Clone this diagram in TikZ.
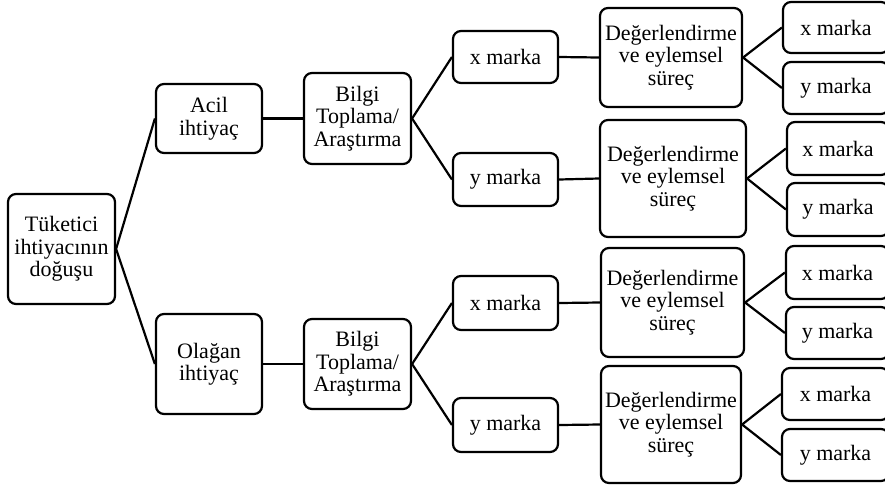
\documentclass[tikz,border=0pt]{standalone}
\usepackage{fontspec}
\setmainfont{Liberation Serif}
\begin{document}
\begin{tikzpicture}[x=1pt,y=-1pt,
  box/.style={draw, line width=2.2pt, rounded corners=8pt, align=center,
    inner sep=0pt, font=\fontsize{22}{22.5}\selectfont},
  link/.style={line width=2.2pt}]
\useasboundingbox (0,0) rectangle (885,488);
\clip (0,0) rectangle (885,488);

% root and first level
\node[box, minimum width=107, minimum height=110] (T) at (61.5,249) {Tüketici\\ihtiyacının\\doğuşu};
\node[box, minimum width=106, minimum height=69] (A) at (209,118.5) {Acil\\ihtiyaç};
\node[box, minimum width=106, minimum height=100] (O) at (209,364) {Olağan\\ihtiyaç};

% information search
\node[box, minimum width=107, minimum height=91] (B1) at (357.5,118.5) {Bilgi\\Toplama/\\Araştırma};
\node[box, minimum width=107, minimum height=90] (B2) at (357.5,364) {Bilgi\\Toplama/\\Araştırma};

% brands
\node[box, minimum width=105, minimum height=52] (X1) at (505.5,57) {x marka};
\node[box, minimum width=105, minimum height=53] (Y1) at (505.5,179.5) {y marka};
\node[box, minimum width=105, minimum height=54] (X2) at (505.5,303) {x marka};
\node[box, minimum width=105, minimum height=54] (Y2) at (505.5,425) {y marka};

% evaluation
\node[box, minimum width=142, minimum height=99] (D1) at (671,57.5) {Değerlendirme\\ve eylemsel\\süreç};
\node[box, minimum width=146, minimum height=117] (D2) at (673,178.5) {Değerlendirme\\ve eylemsel\\süreç};
\node[box, minimum width=143, minimum height=109] (D3) at (672.5,302.5) {Değerlendirme\\ve eylemsel\\süreç};
\node[box, minimum width=140, minimum height=117] (D4) at (671,424.5) {Değerlendirme\\ve eylemsel\\süreç};

% final choices
\node[box, minimum width=106, minimum height=51] (R1) at (836,27.5) {x marka};
\node[box, minimum width=106, minimum height=52] (R2) at (836,88) {y marka};
\node[box, minimum width=102, minimum height=53] (R3) at (838,148.5) {x marka};
\node[box, minimum width=102, minimum height=53] (R4) at (838,209.5) {y marka};
\node[box, minimum width=103, minimum height=53] (R5) at (837.5,272.5) {x marka};
\node[box, minimum width=103, minimum height=52] (R6) at (837.5,333) {y marka};
\node[box, minimum width=107, minimum height=52] (R7) at (835.5,394) {x marka};
\node[box, minimum width=107, minimum height=52] (R8) at (835.5,455) {y marka};

% connectors
\draw[link] (A.west) -- (T.east) -- (O.west);
\draw[link] (A.east) -- (B1.west);
\draw[link] (O.east) -- (B2.west);
\draw[link] (X1.west) -- (B1.east) -- (Y1.west);
\draw[link] (X2.west) -- (B2.east) -- (Y2.west);
\draw[link] (X1.east) -- (D1.west);
\draw[link] (Y1.east) -- (D2.west);
\draw[link] (X2.east) -- (D3.west);
\draw[link] (Y2.east) -- (D4.west);
\draw[link] (R1.west) -- (D1.east) -- (R2.west);
\draw[link] (R3.west) -- (D2.east) -- (R4.west);
\draw[link] (R5.west) -- (D3.east) -- (R6.west);
\draw[link] (R7.west) -- (D4.east) -- (R8.west);
\end{tikzpicture}
\end{document}
